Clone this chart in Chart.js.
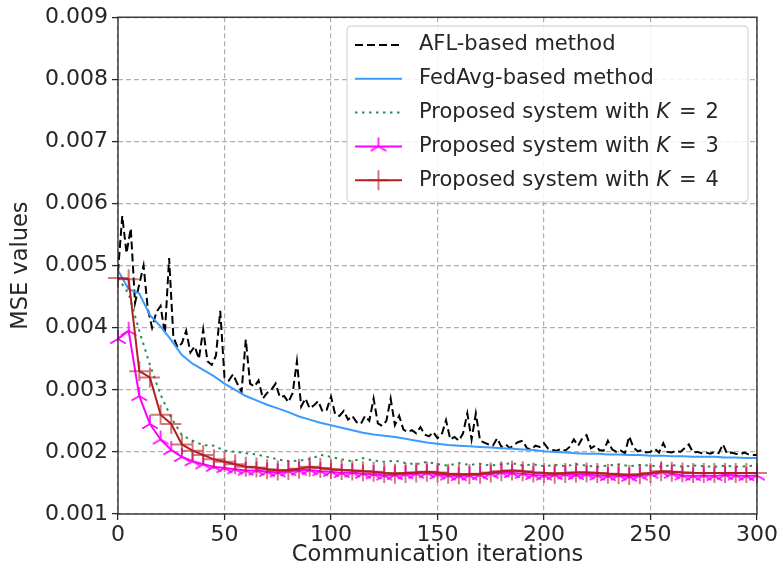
<!DOCTYPE html>
<html>
<head>
<meta charset="utf-8">
<script src="https://cdn.jsdelivr.net/npm/chart.js@4.4.1/dist/chart.umd.min.js"></script>
<style>
  html, body { margin: 0; padding: 0; background: #fff; }
  #wrap { width: 783px; height: 573px; }
</style>
</head>
<body>
<div id="wrap"><canvas id="mse" width="783" height="573"></canvas></div>
<script>
// MSE values are kept in units of 1e-3
const unit = 0.001;

// iteration spacing of the stored samples
const aflStep = 2;
const curveStep = 5;

const xTicks = [0, 50, 100, 150, 200, 250, 300];
const yTicks = [0.001, 0.002, 0.003, 0.004, 0.005, 0.006, 0.007, 0.008, 0.009];

const seriesNames = [
  "AFL-based method",
  "FedAvg-based method",
  "Proposed system with K = 2",
  "Proposed system with K = 3",
  "Proposed system with K = 4"
];

// AFL-based method, one sample every 2 iterations (0..300)
const aflMse = [
  4.90, 5.80, 5.20, 5.60, 4.40, 4.70, 5.00, 4.30, 4.00, 4.25,
  4.35, 3.90, 5.12, 3.85, 3.68, 3.75, 3.95, 3.60, 3.70, 3.50,
  3.97, 3.46, 3.40, 3.55, 4.27, 3.20, 3.15, 3.25, 3.10, 2.97,
  3.81, 3.10, 3.05, 3.15, 2.86, 2.95, 3.00, 3.10, 2.88, 2.90,
  2.80, 2.95, 3.46, 2.73, 2.86, 2.70, 2.75, 2.82, 2.65, 2.68,
  2.89, 2.60, 2.58, 2.66, 2.52, 2.58, 2.48, 2.45, 2.58, 2.50,
  2.86, 2.46, 2.42, 2.50, 2.86, 2.43, 2.58, 2.36, 2.32, 2.35,
  2.30, 2.40, 2.28, 2.25, 2.32, 2.22, 2.28, 2.51, 2.20, 2.24,
  2.18, 2.30, 2.62, 2.20, 2.62, 2.18, 2.15, 2.12, 2.10, 2.22,
  2.08, 2.12, 2.06, 2.12, 2.16, 2.18, 2.06, 2.04, 2.10, 2.08,
  2.14, 2.05, 2.03, 2.02, 2.05, 2.02, 2.08, 2.20, 2.10, 2.22,
  2.27, 2.06, 2.10, 2.03, 2.02, 2.18, 2.04, 2.00, 2.02, 1.98,
  2.25, 2.07, 2.01, 2.03, 1.99, 2.00, 2.05, 1.99, 2.14, 2.00,
  1.99, 2.02, 2.00, 2.06, 2.12, 1.99, 2.00, 1.98, 1.99, 1.97,
  2.00, 1.98, 2.12, 1.97, 1.99, 1.97, 1.96, 1.99, 1.96, 1.95,
  1.95
];

// the other curves, one sample every 5 iterations (0..300)
const fedAvgMse = [
  4.92, 4.62, 4.55, 4.20, 4.02, 3.80, 3.56, 3.42, 3.32, 3.22,
  3.10, 3.00, 2.90, 2.83, 2.76, 2.70, 2.64, 2.57, 2.52, 2.47,
  2.43, 2.39, 2.35, 2.31, 2.28, 2.26, 2.24, 2.21, 2.18, 2.15,
  2.13, 2.11, 2.10, 2.09, 2.08, 2.07, 2.06, 2.05, 2.04, 2.03,
  2.01, 2.00, 1.99, 1.98, 1.97, 1.97, 1.96, 1.96, 1.95, 1.95,
  1.94, 1.94, 1.93, 1.93, 1.92, 1.92, 1.92, 1.91, 1.91, 1.90,
  1.90
];

const k2Mse = [
  4.80, 4.55, 3.95, 3.40, 2.92, 2.55, 2.27, 2.18, 2.11, 2.10,
  2.02, 2.00, 1.98, 1.96, 1.92, 1.88, 1.85, 1.86, 1.88, 1.95,
  1.92, 1.88, 1.85, 1.90, 1.86, 1.84, 1.86, 1.82, 1.80, 1.84,
  1.80, 1.78, 1.82, 1.79, 1.81, 1.78, 1.80, 1.82, 1.78, 1.80,
  1.77, 1.79, 1.77, 1.80, 1.78, 1.76, 1.78, 1.80, 1.77, 1.79,
  1.78, 1.76, 1.79, 1.76, 1.78, 1.77, 1.76, 1.78, 1.76, 1.77,
  1.78
];

const k3Mse = [
  3.82, 3.95, 2.90, 2.45, 2.20, 2.03, 1.92, 1.85, 1.80, 1.76,
  1.74, 1.72, 1.70, 1.70, 1.68, 1.67, 1.69, 1.70, 1.71, 1.69,
  1.68, 1.66, 1.67, 1.65, 1.64, 1.62, 1.63, 1.64, 1.65, 1.66,
  1.64, 1.62, 1.61, 1.62, 1.63, 1.65, 1.67, 1.66, 1.65, 1.63,
  1.62, 1.63, 1.64, 1.63, 1.64, 1.62, 1.61, 1.62, 1.60, 1.62,
  1.65, 1.68, 1.65, 1.62, 1.61, 1.62, 1.61, 1.63, 1.62, 1.61,
  1.62
];

const k4Mse = [
  4.80, 4.78, 3.30, 3.20, 2.60, 2.45, 2.12, 2.02, 1.95, 1.88,
  1.84, 1.80, 1.76, 1.75, 1.72, 1.70, 1.71, 1.73, 1.76, 1.74,
  1.72, 1.71, 1.70, 1.69, 1.68, 1.66, 1.65, 1.66, 1.67, 1.68,
  1.67, 1.65, 1.64, 1.64, 1.65, 1.67, 1.69, 1.70, 1.69, 1.67,
  1.66, 1.65, 1.66, 1.67, 1.67, 1.66, 1.65, 1.64, 1.63, 1.64,
  1.66, 1.69, 1.68, 1.67, 1.66, 1.66, 1.66, 1.66, 1.66, 1.66,
  1.66
];

const fontFamily = "'DejaVu Sans', sans-serif";
const textColor = "#262626";
const legendFont = "21px " + fontFamily;

function toPoints(values, step) {
  return values.map((v, i) => ({ x: i * step, y: v * unit }));
}

// three-armed marker (like matplotlib's tri_up)
function triMarker(color, arm, lw) {
  const size = Math.ceil(arm * 2 + lw * 2);
  const c = document.createElement("canvas");
  c.width = size;
  c.height = size;
  const g = c.getContext("2d");
  const m = size / 2;
  g.strokeStyle = color;
  g.lineWidth = lw;
  g.beginPath();
  g.moveTo(m, m); g.lineTo(m, m - arm);
  g.moveTo(m, m); g.lineTo(m - arm * 0.866, m + arm * 0.5);
  g.moveTo(m, m); g.lineTo(m + arm * 0.866, m + arm * 0.5);
  g.stroke();
  return c;
}

const triPink = triMarker("#ff00ff", 9, 1.6);
const plusColor = "rgba(178, 34, 34, 0.6)";

const datasets = [
  {
    label: seriesNames[0],
    data: toPoints(aflMse, aflStep),
    borderColor: "#000000",
    borderWidth: 2,
    borderDash: [8, 4],
    pointRadius: 0,
    order: 5
  },
  {
    label: seriesNames[1],
    data: toPoints(fedAvgMse, curveStep),
    borderColor: "#3d9bff",
    borderWidth: 2,
    pointRadius: 0,
    order: 4
  },
  {
    label: seriesNames[2],
    data: toPoints(k2Mse, curveStep),
    borderColor: "#2e8b57",
    borderWidth: 2,
    borderDash: [2.5, 4.5],
    pointRadius: 0,
    order: 3
  },
  {
    label: seriesNames[3],
    data: toPoints(k3Mse, curveStep),
    borderColor: "#ff00ff",
    borderWidth: 2,
    pointStyle: triPink,
    pointRadius: 9,
    order: 2,
    clip: false
  },
  {
    label: seriesNames[4],
    data: toPoints(k4Mse, curveStep),
    borderColor: "#b22222",
    borderWidth: 2,
    pointStyle: "cross",
    pointRadius: 10,
    pointBorderColor: plusColor,
    pointBorderWidth: 2,
    order: 1,
    clip: false
  }
];

// box around the plotting area
const frame = {
  id: "frame",
  afterDatasetsDraw(chart) {
    const { ctx, chartArea: a } = chart;
    ctx.save();
    ctx.strokeStyle = textColor;
    ctx.lineWidth = 1.3;
    ctx.strokeRect(a.left, a.top, a.right - a.left, a.bottom - a.top);
    ctx.restore();
  }
};

// legend box in the upper right, drawn on top of the curves
const legendBox = {
  id: "legendBox",
  afterDraw(chart) {
    const { ctx } = chart;
    const left = 347, top = 26, w = 401, h = 176, r = 4;
    ctx.save();
    ctx.beginPath();
    ctx.moveTo(left + r, top);
    ctx.arcTo(left + w, top, left + w, top + h, r);
    ctx.arcTo(left + w, top + h, left, top + h, r);
    ctx.arcTo(left, top + h, left, top, r);
    ctx.arcTo(left, top, left + w, top, r);
    ctx.closePath();
    ctx.fillStyle = "rgba(255,255,255,0.85)";
    ctx.fill();
    ctx.strokeStyle = "#cccccc";
    ctx.lineWidth = 1;
    ctx.stroke();

    chart.data.datasets.forEach((ds, i) => {
      const y = 45 + i * 33.8;
      ctx.save();
      ctx.strokeStyle = ds.borderColor;
      ctx.lineWidth = ds.borderWidth;
      ctx.setLineDash(ds.borderDash || []);
      ctx.beginPath();
      ctx.moveTo(355, y);
      ctx.lineTo(402, y);
      ctx.stroke();
      ctx.restore();

      if (ds.pointStyle === "cross") {
        ctx.save();
        ctx.strokeStyle = ds.pointBorderColor;
        ctx.lineWidth = ds.pointBorderWidth;
        ctx.beginPath();
        ctx.moveTo(378.5, y - ds.pointRadius);
        ctx.lineTo(378.5, y + ds.pointRadius);
        ctx.moveTo(378.5 - ds.pointRadius, y);
        ctx.lineTo(378.5 + ds.pointRadius, y);
        ctx.stroke();
        ctx.restore();
      } else if (ds.pointStyle) {
        const img = ds.pointStyle;
        ctx.drawImage(img, 378.5 - img.width / 2, y - img.height / 2);
      }

      // "K = n" is set like a formula: italic K, wide spaces around "="
      ctx.fillStyle = textColor;
      ctx.textBaseline = "middle";
      let x = 419;
      const m = ds.label.match(/^(.*with )K = (\d)$/);
      ctx.font = legendFont;
      if (m) {
        ctx.fillText(m[1], x, y);
        x += ctx.measureText(m[1]).width;
        ctx.font = "italic " + legendFont;
        ctx.fillText("K", x, y);
        x += ctx.measureText("K").width + 9;
        ctx.font = legendFont;
        ctx.fillText("=", x, y);
        x += ctx.measureText("=").width + 9;
        ctx.fillText(m[2], x, y);
      } else {
        ctx.fillText(ds.label, x, y);
      }
    });
    ctx.restore();
  }
};

const gridOpts = {
  color: "#b0b0b0",
  lineWidth: 1.2,
  tickColor: textColor,
  tickLength: 6,
  tickWidth: 1.3
};

new Chart(document.getElementById("mse"), {
  type: "line",
  data: { datasets: datasets },
  options: {
    responsive: false,
    animation: false,
    devicePixelRatio: 1,
    layout: { padding: { left: 0, right: 26, top: 14, bottom: 0 } },
    plugins: {
      legend: { display: false },
      tooltip: { enabled: false }
    },
    scales: {
      x: {
        type: "linear",
        min: xTicks[0],
        max: xTicks[xTicks.length - 1],
        afterBuildTicks: s => { s.ticks = xTicks.map(v => ({ value: v })); },
        ticks: {
          color: textColor,
          font: { family: fontFamily, size: 22 },
          padding: 2,
          maxRotation: 0
        },
        grid: gridOpts,
        border: { display: false, dash: [5, 3] },
        title: {
          display: true,
          text: "Communication iterations",
          color: textColor,
          font: { family: fontFamily, size: 22.5 },
          padding: { top: 0, bottom: 4 }
        },
        afterFit: s => { s.height = 59; }
      },
      y: {
        type: "linear",
        min: yTicks[0],
        max: yTicks[yTicks.length - 1],
        afterBuildTicks: s => { s.ticks = yTicks.map(v => ({ value: v })); },
        ticks: {
          color: textColor,
          font: { family: fontFamily, size: 22 },
          padding: 4,
          callback: v => v.toFixed(3)
        },
        grid: gridOpts,
        border: { display: false, dash: [5, 3] },
        title: {
          display: true,
          text: "MSE values",
          color: textColor,
          font: { family: fontFamily, size: 22.5 },
          padding: { top: 8, bottom: 0 }
        },
        afterFit: s => { s.width = 118; }
      }
    }
  },
  plugins: [frame, legendBox]
});
</script>
</body>
</html>
